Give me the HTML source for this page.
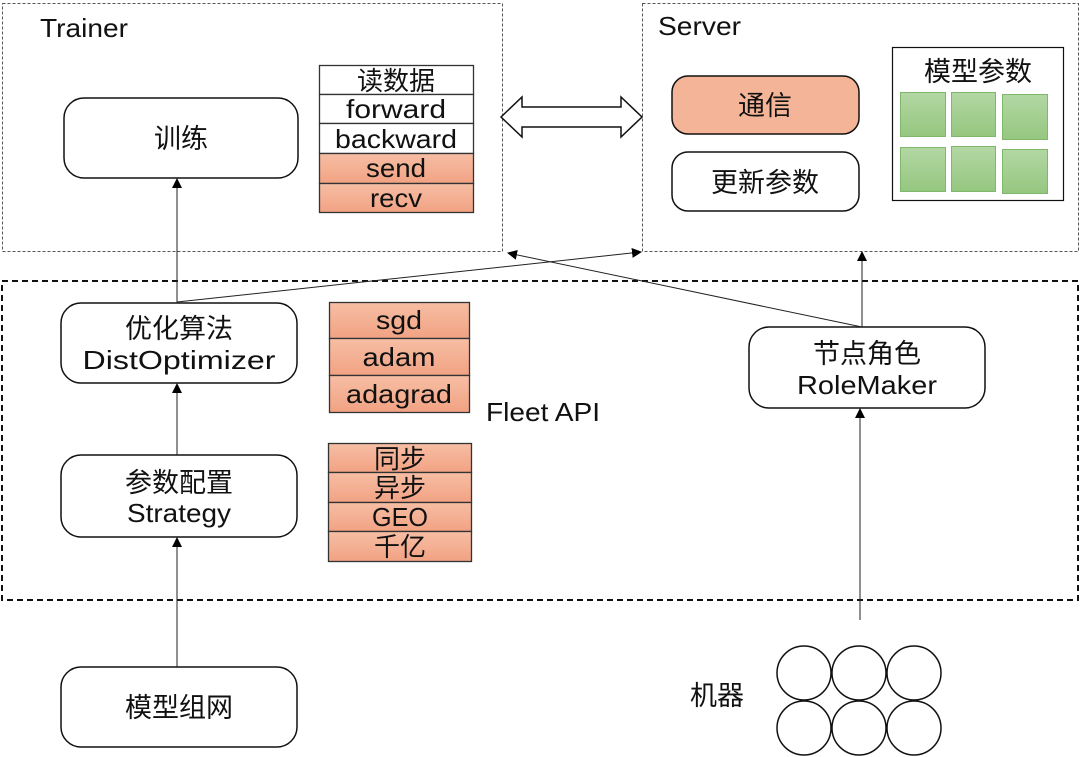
<!DOCTYPE html>
<html><head><meta charset="utf-8"><style>
html,body{margin:0;padding:0;background:#fff;}
svg{display:block;}
text{font-family:"Liberation Sans","Noto Sans CJK SC",sans-serif;fill:#111;}
</style></head><body>
<svg width="1080" height="757" viewBox="0 0 1080 757" xmlns="http://www.w3.org/2000/svg">
<defs>
<marker id="ah" markerWidth="10" markerHeight="10" refX="9" refY="5" orient="auto" markerUnits="userSpaceOnUse">
<path d="M0,0 L10,5 L0,10 z" fill="#000"/></marker>
<linearGradient id="og" x1="0" y1="0" x2="0" y2="1"><stop offset="0" stop-color="#f6bea4"/><stop offset="1" stop-color="#f2a283"/></linearGradient>
<linearGradient id="gg" x1="0" y1="0" x2="0" y2="1"><stop offset="0" stop-color="#b3d7a4"/><stop offset="1" stop-color="#95c77f"/></linearGradient>
</defs>
<rect x="2.5" y="3.5" width="500" height="248" fill="none" stroke="#555" stroke-width="1" stroke-dasharray="3,2"/>
<rect x="642.5" y="3.5" width="436" height="248" fill="none" stroke="#555" stroke-width="1" stroke-dasharray="3,2"/>
<rect x="2" y="281" width="1076" height="319" fill="none" stroke="#111" stroke-width="2" stroke-dasharray="6,4"/>
<text x="40" y="37" font-size="26" textLength="88" lengthAdjust="spacingAndGlyphs">Trainer</text>
<text x="658" y="35" font-size="26" textLength="83" lengthAdjust="spacingAndGlyphs">Server</text>

<rect x="64" y="98" width="234" height="80" rx="20" fill="#fff" stroke="#111" stroke-width="1.5"/>
<text x="181" y="148" font-size="27" text-anchor="middle">训练</text>

<g stroke="#333" stroke-width="1.3">
<rect x="319.5" y="65.5" width="154" height="29" fill="#fff"/>
<rect x="319.5" y="94.5" width="154" height="29" fill="#fff"/>
<rect x="319.5" y="123.5" width="154" height="30" fill="#fff"/>
<rect x="319.5" y="153.5" width="154" height="30" fill="url(#og)"/>
<rect x="319.5" y="183.5" width="154" height="29" fill="url(#og)"/>
</g>
<g font-size="26" text-anchor="middle" lengthAdjust="spacingAndGlyphs">
<text x="396" y="90">读数据</text>
<text x="396" y="118" textLength="100" lengthAdjust="spacingAndGlyphs">forward</text>
<text x="396" y="148" textLength="122" lengthAdjust="spacingAndGlyphs">backward</text>
<text x="396" y="177" textLength="60" lengthAdjust="spacingAndGlyphs">send</text>
<text x="396" y="207" textLength="52" lengthAdjust="spacingAndGlyphs">recv</text>
</g>

<path d="M501,117 L522,97 L522,107 L621,107 L621,97 L642,117 L621,137 L621,127 L522,127 L522,137 Z" fill="#fff" stroke="#111" stroke-width="1.5"/>

<rect x="672" y="76" width="187" height="58" rx="16" fill="#f4b497" stroke="#111" stroke-width="1.5"/>
<text x="765" y="115" font-size="27" text-anchor="middle">通信</text>
<rect x="672" y="152" width="187" height="59" rx="16" fill="#fff" stroke="#111" stroke-width="1.5"/>
<text x="765" y="192" font-size="27" text-anchor="middle">更新参数</text>
<rect x="892.5" y="47.5" width="171" height="153" fill="#fff" stroke="#111" stroke-width="1.2"/>
<text x="978" y="81" font-size="27" text-anchor="middle">模型参数</text>
<g fill="url(#gg)" stroke="#7fb86a" stroke-width="1">
<rect x="900.5" y="92.5" width="45" height="44"/>
<rect x="951.5" y="92.5" width="44" height="44"/>
<rect x="1002.5" y="94.5" width="45" height="45"/>
<rect x="900.5" y="147.5" width="45" height="44"/>
<rect x="951.5" y="146.5" width="44" height="45"/>
<rect x="1002.5" y="149.5" width="45" height="44"/>
</g>

<rect x="61" y="303" width="236" height="80" rx="20" fill="#fff" stroke="#111" stroke-width="1.5"/>
<text x="179" y="338" font-size="27" text-anchor="middle">优化算法</text>
<text x="179" y="369" font-size="26" text-anchor="middle" textLength="193" lengthAdjust="spacingAndGlyphs">DistOptimizer</text>
<rect x="61" y="455" width="236" height="82" rx="20" fill="#fff" stroke="#111" stroke-width="1.5"/>
<text x="179" y="492" font-size="27" text-anchor="middle">参数配置</text>
<text x="179" y="522" font-size="26" text-anchor="middle" textLength="104" lengthAdjust="spacingAndGlyphs">Strategy</text>

<g stroke="#333" stroke-width="1.3" fill="url(#og)">
<rect x="329.5" y="302.5" width="140" height="36"/>
<rect x="329.5" y="338.5" width="140" height="37"/>
<rect x="329.5" y="375.5" width="140" height="37"/>
<rect x="328.5" y="443.5" width="143" height="29"/>
<rect x="328.5" y="472.5" width="143" height="30"/>
<rect x="328.5" y="502.5" width="143" height="29"/>
<rect x="328.5" y="531.5" width="143" height="30"/>
</g>
<g font-size="26" text-anchor="middle">
<text x="399" y="329" textLength="46" lengthAdjust="spacingAndGlyphs">sgd</text>
<text x="399" y="366" textLength="73" lengthAdjust="spacingAndGlyphs">adam</text>
<text x="399" y="403" textLength="106" lengthAdjust="spacingAndGlyphs">adagrad</text>
<text x="400" y="468">同步</text>
<text x="400" y="497">异步</text>
<text x="400" y="526" textLength="56" lengthAdjust="spacingAndGlyphs">GEO</text>
<text x="400" y="556">千亿</text>
</g>
<text x="486" y="421" font-size="26" textLength="114" lengthAdjust="spacingAndGlyphs">Fleet API</text>

<rect x="749" y="327" width="236" height="81" rx="20" fill="#fff" stroke="#111" stroke-width="1.5"/>
<text x="867" y="363" font-size="27" text-anchor="middle">节点角色</text>
<text x="867" y="394" font-size="26" text-anchor="middle" textLength="140" lengthAdjust="spacingAndGlyphs">RoleMaker</text>

<rect x="61" y="667" width="236" height="80" rx="20" fill="#fff" stroke="#111" stroke-width="1.5"/>
<text x="179" y="717" font-size="27" text-anchor="middle">模型组网</text>
<text x="690" y="705" font-size="27">机器</text>
<g fill="#fff" stroke="#111" stroke-width="1.5">
<circle cx="804" cy="673" r="27"/><circle cx="859" cy="673" r="27"/><circle cx="914" cy="673" r="27"/>
<circle cx="804" cy="728" r="27"/><circle cx="859" cy="728" r="27"/><circle cx="914" cy="728" r="27"/>
</g>

<g stroke="#222" stroke-width="1" fill="none" marker-end="url(#ah)">
<line x1="177" y1="303" x2="177" y2="179"/>
<line x1="177" y1="455" x2="177" y2="384"/>
<line x1="177" y1="667" x2="177" y2="538"/>
<line x1="860" y1="620" x2="860" y2="409"/>
<line x1="862" y1="327" x2="862" y2="252"/>
<line x1="177" y1="302" x2="641" y2="252"/>
<line x1="862" y1="327" x2="508" y2="253"/>
</g>
</svg>
</body></html>
